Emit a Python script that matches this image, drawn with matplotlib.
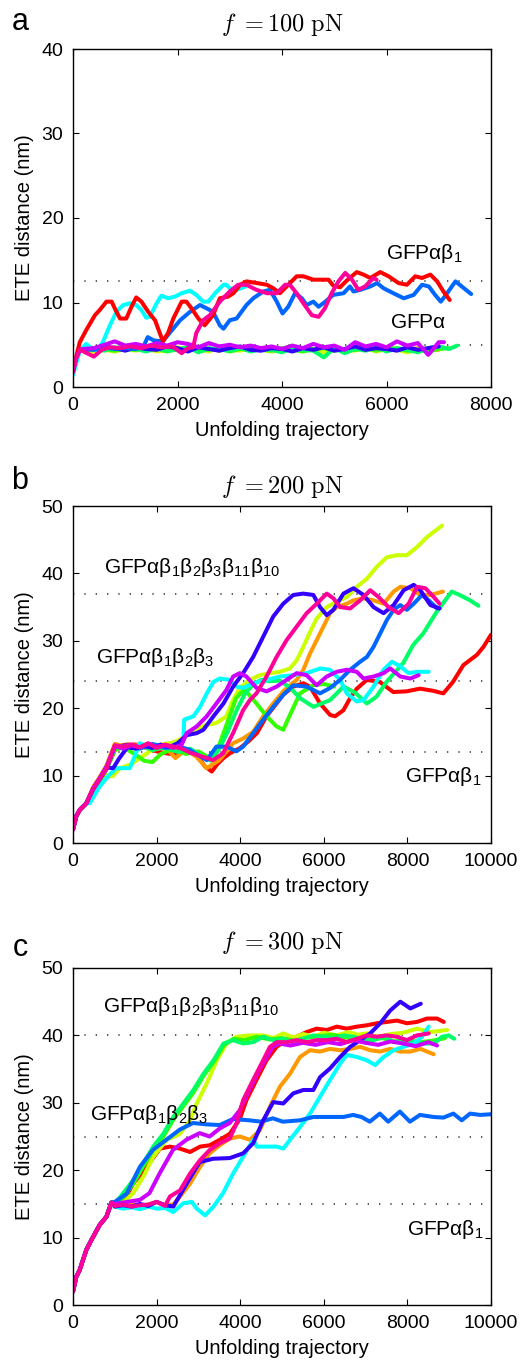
import matplotlib
matplotlib.use('Agg')
import matplotlib.pyplot as plt

plt.rcParams['font.family'] = ['Liberation Sans', 'DejaVu Sans']

W, H = 525, 1363

# colours of the ten runs (hsv(10) order)
red, orange, lime, green1, green2 = '#ff0000', '#ff9900', '#ccff00', '#33ff00', '#00ff66'
cyan, azure, indigo, purple, pink = '#00ffff', '#0066ff', '#3300ff', '#cc00ff', '#ff0099'

# ---------------- panel a : f = 100 pN ----------------
a_start_x = [0, 60, 130]
a_start_y = [1.8, 3.4, 4.4]
a_flat_x = [200, 400, 600, 800, 1000, 1200, 1400, 1600, 1800, 2000, 2200, 2400, 2600, 2800, 3000,
            3200, 3400, 3600, 3800, 4000, 4200, 4400, 4600, 4800, 5000, 5200, 5400, 5600, 5800,
            6000, 6200, 6400, 6600, 6800, 7000]
a_orange_y = [4.5, 4.4, 4.6, 4.5, 4.4, 4.6, 4.5, 4.4, 4.6, 4.5, 4.4, 4.6, 4.5, 4.3, 4.6, 4.5, 4.4,
              4.6, 4.5, 4.4, 4.6, 4.5, 4.4, 4.6, 4.5, 4.3, 4.6, 4.5, 4.4, 4.6, 4.5, 4.4, 4.6, 4.5, 4.4]
a_lime_y = [4.3, 4.1, 4.4, 4.2, 4.5, 4.3, 4.6, 4.2, 4.4, 4.7, 4.3, 4.5, 4.2, 4.8, 4.4, 4.3, 4.6,
            4.4, 4.2, 4.5, 4.9, 4.3, 4.5, 4.1, 4.6, 4.4, 4.3, 4.7, 4.2, 4.5, 4.4, 4.1, 4.5, 4.3, 4.6]
a_green1_y = [4.6, 4.4, 4.5, 4.3, 4.6, 4.4, 4.7, 4.5, 4.2, 4.5, 4.6, 4.3, 4.4, 4.6, 4.2, 4.5, 4.7,
              4.4, 4.3, 4.6, 4.4, 4.2, 4.5, 4.6, 4.3, 4.5, 4.4, 4.6, 4.3, 4.7, 4.5, 4.3, 4.4, 4.2, 4.5]
a_green2_y = [4.5, 4.6, 4.3, 4.7, 4.4, 4.5, 4.2, 4.6, 4.3, 4.4, 4.7, 4.1, 4.6, 4.4, 4.3, 4.6, 4.2,
              4.5, 4.4, 4.1, 4.6, 4.4, 4.3, 3.5, 4.6, 4.0, 4.5, 4.3, 4.7, 4.2, 4.6, 4.4, 4.1, 4.6, 4.8]
a_indigo_y = [4.4, 4.5, 4.8, 4.6, 4.3, 4.7, 4.5, 4.4, 4.8, 4.6, 4.2, 4.7, 4.5, 4.3, 4.6, 4.8, 4.4,
              4.3, 4.6, 4.5, 4.2, 4.6, 4.4, 4.7, 4.3, 4.5, 4.8, 4.4, 4.6, 4.5, 4.3, 4.7, 4.4, 4.6, 4.8]
a_purple_y = [4.5, 4.6, 5.0, 5.4, 4.9, 5.1, 4.8, 5.2, 4.9, 5.3, 5.1, 4.7, 5.2, 4.8, 5.0, 4.7, 4.9,
              4.6, 4.8, 4.5, 4.9, 4.6, 5.1, 4.7, 4.9, 4.4, 5.3, 4.8, 5.1, 4.7, 5.4, 4.9, 5.2, 3.8, 5.3]

a_red_x = [0, 60, 130, 250, 420, 510, 640, 740, 800, 900, 1020, 1120, 1210, 1310, 1440, 1570, 1660,
           1720, 1820, 1920, 2080, 2170, 2270, 2400, 2520, 2680, 2810, 2970, 3070, 3200, 3320, 3520,
           3710, 3830, 3960, 4090, 4280, 4410, 4600, 4760, 4890, 4980, 5110, 5240, 5430, 5560, 5690,
           5880, 6040, 6230, 6390, 6550, 6680, 6840, 6970, 7090, 7210]
a_red_y = [1.8, 3.6, 5.3, 6.7, 8.5, 9.1, 10.1, 10.1, 9.3, 8.1, 8.1, 9.5, 10.6, 10.1, 8.9, 7.9, 6.4,
           5.4, 6.4, 8.1, 10.1, 10.1, 9.3, 8.1, 7.3, 8.5, 10.5, 10.7, 11.1, 12.1, 12.5, 12.3,
           12.1, 11.7, 11.1, 11.9, 13.1, 13.1, 12.7, 12.7, 12.7, 12.0, 11.8, 12.6, 13.6, 13.3, 12.9,
           13.6, 13.1, 12.3, 12.1, 13.1, 12.9, 13.3, 12.5, 11.3, 10.3]
a_cyan_x = [0, 130, 250, 350, 450, 570, 700, 830, 960, 1090, 1210, 1310, 1400, 1470, 1600, 1690,
            1820, 1950, 2080, 2240, 2360, 2490, 2590, 2720, 2880, 2930, 3000, 3130, 3300]
a_cyan_y = [1.4, 4.3, 5.1, 4.6, 4.3, 5.3, 7.2, 8.9, 9.7, 9.9, 9.7, 9.1, 8.2, 8.3, 9.9, 10.8,
            10.5, 10.7, 11.1, 11.4, 10.9, 10.1, 10.1, 11.1, 12.1, 12.1, 11.7, 11.5, 11.9]
a_azure_x = [200, 400, 600, 800, 1000, 1200, 1350, 1430, 1550, 1720, 1850, 2050, 2240, 2430, 2560,
             2680, 2810, 2880, 3000, 3130, 3320, 3450, 3640, 3770, 3900, 4010, 4120, 4250, 4380,
             4470, 4600, 4700, 4830, 4980, 5180, 5300, 5370, 5500, 5690, 5820, 5940, 6130, 6330,
             6520, 6680, 6810, 6930, 7040, 7160, 7320, 7440, 7620]
a_azure_y = [4.5, 4.4, 4.7, 4.5, 4.6, 4.5, 4.8, 5.9, 5.5, 5.4, 6.4, 7.9, 8.9, 9.7, 9.3,
             8.9, 7.3, 6.9, 7.9, 8.1, 9.7, 10.5, 11.3, 11.5, 10.1, 8.7, 9.5, 11.1, 10.5,
             9.7, 10.1, 9.5, 10.1, 10.9, 11.1, 11.9, 11.3, 11.5, 11.9, 12.3, 11.7, 11.1, 10.5,
             10.9, 12.1, 11.9, 10.9, 10.1, 11.1, 12.5, 11.9, 11.0]
a_pink_x = [200, 400, 550, 700, 900, 1100, 1300, 1500, 1700, 1900, 2080, 2200, 2300, 2360, 2490,
            2620, 2810, 3000, 3160, 3320, 3510, 3710, 3900, 4060, 4150, 4280, 4410, 4570, 4700,
            4820, 4950, 5080, 5210, 5340, 5460, 5590, 5750, 5810]
a_pink_y = [4.2, 3.6, 4.4, 4.7, 4.6, 4.8, 4.6, 4.9, 4.7, 4.8, 4.0, 4.6, 4.7, 6.4, 7.9,
            8.5, 10.1, 11.3, 12.1, 12.1, 11.5, 11.1, 11.1, 12.1, 12.1, 11.1, 9.9, 8.5, 8.3,
            9.3, 11.1, 12.5, 13.5, 12.7, 11.5, 11.9, 12.9, 12.7]

# ---------------- panel b : f = 200 pN ----------------
b_start_x = [0, 80, 160, 320]
b_start_y = [2.0, 4.0, 4.9, 5.9]
b_red_x = [480, 640, 800, 1040, 1280, 1520, 1760, 2000, 2240, 2480, 2720, 2960, 3150, 3320, 3440,
           3600, 3750, 4000, 4200, 4400, 4630, 4870, 5030, 5270, 5510, 5670, 5910, 6150, 6270,
           6470, 6630, 6790, 7030, 7340, 7660, 7980, 8300, 8600, 8860, 9090, 9340, 9660, 9820, 10000]
b_red_y = [7.9, 9.2, 11.0, 14.3, 14.6, 14.6, 14.1, 13.6, 13.3, 13.1, 13.6, 13.1, 11.4, 10.6, 11.6,
           12.6, 13.3, 14.1, 15.1, 16.3, 18.8, 20.7, 22.0, 23.2, 23.7, 23.2, 20.7, 19.0, 18.8,
           19.7, 21.5, 22.9, 24.2, 23.9, 22.4, 22.5, 22.9, 22.6, 22.2, 23.9, 26.4, 27.9, 29.1, 30.9]
b_orange_x = [480, 640, 800, 1000, 1300, 1600, 1900, 2200, 2450, 2700, 2950, 3200, 3500, 3830,
              4070, 4310, 4550, 4790, 5030, 5190, 5350, 5510, 5670, 5910, 6150, 6310, 6550, 6710,
              6950, 7190, 7430, 7670, 7830, 8070, 8310, 8550, 8850]
b_orange_y = [8.3, 9.8, 11.5, 14.7, 14.2, 14.6, 13.8, 14.3, 12.6, 13.9, 12.8, 11.1, 12.3, 14.8,
              15.5, 16.5, 18.8, 20.7, 22.5, 23.4, 24.2, 25.7, 28.1, 31.1, 34.1, 35.0, 35.5, 36.0,
              36.3, 36.0, 35.5, 37.3, 38.0, 37.8, 36.8, 36.8, 37.3]
b_lime_x = [480, 640, 800, 950, 1120, 1360, 1600, 1840, 2100, 2400, 2700, 2950, 3200, 3430, 3670,
            3830, 3990, 4230, 4470, 4710, 4950, 5190, 5350, 5510, 5670, 5830, 6070, 6310, 6550,
            6790, 7030, 7270, 7510, 7750, 7990, 8230, 8470, 8830]
b_lime_y = [7.5, 8.8, 10.0, 9.9, 11.1, 11.6, 12.6, 13.6, 14.6, 14.9, 15.8, 17.0, 17.5, 17.8, 18.8,
            21.2, 23.0, 24.2, 24.9, 25.2, 25.4, 25.9, 27.1, 29.1, 31.3, 33.3, 35.0, 35.8, 36.5,
            38.0, 39.2, 41.0, 42.4, 42.7, 42.7, 43.9, 45.4, 47.1]
b_green1_x = [480, 640, 800, 1000, 1200, 1450, 1700, 1900, 2100, 2400, 2700, 3000, 3300, 3500,
              3700, 3900, 4100, 4390, 4630, 4870, 5030, 5190, 5430, 5750, 6000, 6250]
b_green1_y = [7.8, 9.2, 10.9, 13.8, 14.2, 13.3, 12.2, 12.0, 13.2, 14.0, 13.2, 13.6, 12.5, 14.6,
              18.0, 21.5, 22.8, 20.7, 18.8, 17.3, 16.8, 19.0, 22.2, 23.4, 23.6, 23.2]
b_green2_x = [480, 640, 800, 1000, 1300, 1600, 1900, 2200, 2500, 2800, 3100, 3300, 3500, 3700,
              3900, 4100, 4300, 4500, 4700, 4950, 5200, 5430, 5750, 6150, 6470, 6750, 7030, 7260,
              7500, 7900, 8140, 8380, 8700, 9060, 9250, 9500, 9700]
b_green2_y = [8.0, 9.5, 11.2, 14.3, 14.0, 14.5, 13.8, 14.2, 13.5, 14.0, 12.8, 12.2, 14.0, 16.5,
              19.5, 22.0, 23.5, 24.2, 24.0, 24.1, 23.0, 21.5, 20.2, 21.2, 23.2, 22.3, 20.7, 21.7,
              23.9, 26.7, 29.4, 31.1, 34.3, 37.3, 36.8, 36.0, 35.2]
b_cyan_x = [400, 640, 880, 1040, 1360, 1600, 1800, 2000, 2200, 2400, 2640, 2660, 2880, 3040, 3200,
            3360, 3510, 3750, 3910, 4070, 4310, 4630, 4950, 5270, 5590, 5910, 6150, 6390, 6550,
            6790, 6950, 7190, 7430, 7630, 7830, 8030, 8230, 8510]
b_cyan_y = [5.9, 8.4, 10.2, 11.1, 11.1, 14.8, 14.3, 14.6, 14.2, 14.5, 15.1, 18.3, 18.8, 20.2, 22.2,
            23.9, 24.4, 24.2, 23.2, 23.0, 23.7, 24.2, 24.7, 24.9, 25.2, 25.9, 25.7, 24.2, 22.2,
            21.0, 21.2, 23.2, 25.7, 26.9, 26.2, 25.2, 25.4, 25.4]
b_azure_x = [480, 640, 800, 1000, 1300, 1600, 1900, 2200, 2500, 2800, 3000, 3200, 3430, 3670,
             3910, 4070, 4310, 4550, 4790, 5030, 5270, 5590, 5910, 6150, 6390, 6630, 6870, 7030,
             7190, 7350, 7510, 7670, 7830, 7990, 8150, 8350, 8510, 8710]
b_azure_y = [7.9, 9.4, 11.0, 14.2, 14.5, 14.0, 14.7, 14.1, 14.4, 13.8, 13.0, 12.3, 14.3, 14.3,
             13.6, 14.3, 16.3, 18.3, 20.2, 22.0, 23.4, 23.2, 22.2, 23.0, 24.2, 25.7, 26.9, 27.6,
             29.1, 31.1, 33.1, 34.6, 35.3, 34.6, 35.5, 36.8, 36.0, 34.8]
b_indigo_x = [480, 640, 800, 960, 1100, 1300, 1500, 1700, 1900, 2100, 2300, 2500, 2720, 2960, 3120,
              3360, 3600, 3830, 4070, 4310, 4550, 4790, 5030, 5270, 5510, 5750, 5910, 6070, 6230,
              6470, 6710, 6950, 7190, 7430, 7670, 7910, 8150, 8310, 8550, 8770]
b_indigo_y = [8.0, 9.6, 11.2, 11.1, 12.5, 14.2, 14.0, 14.4, 14.1, 14.6, 14.2, 14.8, 16.0, 16.3, 16.8,
              18.8, 20.7, 23.2, 25.2, 27.6, 30.6, 33.6, 35.5, 36.8, 37.0, 36.8, 35.0, 33.8, 34.6,
              37.0, 37.8, 36.8, 35.0, 34.1, 35.3, 37.5, 38.3, 37.5, 35.3, 34.8]
b_purple_x = [480, 640, 800, 1000, 1200, 1400, 1600, 1800, 2000, 2200, 2400, 2600, 2720, 2960,
              3200, 3430, 3670, 3830, 3990, 4150, 4390, 4630, 4870, 5110, 5350, 5590, 5830, 6070,
              6310, 6550, 6790, 6950, 7190, 7430, 7590, 7830, 8070, 8270]
b_purple_y = [8.1, 9.6, 11.3, 14.4, 14.0, 14.5, 14.2, 14.7, 14.3, 14.5, 14.1, 14.6, 16.3, 17.3,
              18.8, 20.7, 22.7, 24.7, 25.2, 24.7, 23.0, 22.5, 23.2, 24.2, 25.2, 24.9, 23.4, 24.7,
              25.4, 25.7, 25.4, 24.4, 24.7, 25.2, 25.9, 24.7, 24.4, 24.9]
b_pink_x = [480, 640, 800, 1000, 1200, 1400, 1600, 1800, 2000, 2200, 2400, 2600, 2800, 3000, 3200,
            3350, 3590, 3830, 4070, 4230, 4390, 4630, 4870, 5110, 5350, 5590, 5830, 6070, 6230,
            6390, 6630, 6870, 7110, 7310, 7550, 7790, 8030, 8230, 8430, 8630, 8770]
b_pink_y = [8.0, 9.5, 11.0, 14.5, 14.3, 14.6, 14.2, 14.8, 14.1, 14.6, 14.3, 14.0, 13.4, 13.0, 12.6,
            12.3, 13.3, 16.3, 19.7, 21.2, 22.2, 24.7, 27.6, 30.1, 32.1, 34.1, 35.5, 37.0, 36.3,
            35.0, 34.8, 36.0, 37.5, 36.5, 35.0, 34.1, 35.5, 38.0, 37.8, 36.5, 35.5]

# ---------------- panel c : f = 300 pN ----------------
c_start_x = [0, 80, 160, 320, 480, 640, 800, 920]
c_start_y = [2.0, 4.2, 5.2, 8.2, 10.1, 11.9, 13.1, 15.2]
c_red_x = [1000, 1200, 1440, 1760, 2080, 2320, 2560, 2800, 3040, 3270, 3510, 3750, 3990, 4150, 4390,
           4630, 4870, 5110, 5350, 5590, 5830, 6070, 6310, 6550, 6790, 7030, 7270, 7510, 7750,
           7990, 8230, 8470, 8710, 8870]
c_red_y = [14.8, 15.3, 18.0, 20.5, 23.2, 23.5, 23.2, 22.7, 23.5, 23.7, 24.5, 25.4, 27.6, 30.4, 33.4,
           36.3, 38.3, 39.3, 39.8, 40.5, 41.0, 40.8, 41.3, 41.0, 41.3, 41.5, 41.8, 42.0, 42.2,
           41.8, 42.0, 42.5, 42.5, 42.0]
c_orange_x = [1000, 1200, 1400, 1600, 1800, 2000, 2200, 2400, 2560, 2800, 3040, 3270, 3510, 3750,
              3990, 4230, 4470, 4710, 4950, 5190, 5430, 5670, 5910, 6150, 6390, 6630, 6870, 7110,
              7350, 7590, 7830, 8070, 8310, 8470, 8630]
c_orange_y = [14.9, 14.6, 15.0, 14.7, 14.9, 15.3, 14.8, 14.9, 16.1, 18.0, 20.5, 22.5, 23.7, 24.7,
              25.0, 24.5, 25.9, 29.4, 32.4, 34.3, 36.8, 37.8, 37.6, 38.0, 37.8, 38.0, 38.3, 37.8,
              37.6, 38.0, 37.6, 37.6, 38.0, 37.6, 37.2]
c_lime_x = [1000, 1200, 1440, 1680, 1920, 2240, 2560, 2800, 2960, 3200, 3440, 3670, 3910, 4230, 4550,
            4800, 5030, 5270, 5510, 5750, 6000, 6300, 6600, 6800, 7030, 7300, 7600, 7900, 8230,
            8550, 8950]
c_lime_y = [15.0, 15.2, 16.6, 19.0, 22.0, 24.5, 25.4, 27.4, 29.9, 32.9, 36.3, 38.8, 39.8, 40.0, 40.0,
            39.6, 40.3, 39.7, 40.2, 39.8, 40.4, 40.0, 40.5, 40.1, 40.3, 39.8, 40.2, 40.4, 41.0,
            40.5, 40.8]
c_green1_x = [1000, 1200, 1440, 1680, 1920, 2160, 2400, 2640, 2880, 3120, 3360, 3600, 3840, 4100,
              4400, 4700, 5000, 5300, 5600, 5900, 6200, 6500, 6800, 7100, 7400, 7700, 8000, 8300,
              8600, 8900]
c_green1_y = [15.0, 16.0, 18.0, 20.6, 23.0, 25.0, 27.5, 29.5, 31.5, 34.0, 36.0, 38.5, 39.5, 39.3,
              39.8, 39.4, 39.6, 39.2, 39.7, 39.9, 40.1, 39.7, 39.5, 39.4, 39.6, 39.1, 39.3, 39.0,
              39.2, 39.6]
c_green2_x = [1000, 1200, 1440, 1680, 1920, 2160, 2400, 2640, 2880, 3120, 3360, 3600, 3830, 4070,
              4310, 4550, 4790, 5030, 5270, 5510, 5750, 5990, 6230, 6470, 6710, 6950, 7190, 7430,
              7670, 7910, 8150, 8390, 8630, 8830, 8990, 9120]
c_green2_y = [15.0, 16.6, 18.5, 21.0, 23.5, 25.4, 27.9, 29.9, 31.9, 34.3, 36.3, 38.8, 39.3, 38.8,
              39.0, 39.8, 39.3, 39.5, 39.0, 39.5, 40.0, 39.8, 39.6, 40.0, 39.8, 39.3, 39.3, 39.8,
              39.0, 39.3, 39.0, 38.8, 38.8, 39.8, 40.0, 39.5]
c_cyan_x = [1000, 1200, 1400, 1600, 1800, 2000, 2200, 2400, 2640, 2840, 2960, 3160, 3360, 3590,
            3830, 4070, 4310, 4400, 4630, 4870, 5030, 5190, 5430, 5670, 5910, 6150, 6390, 6550,
            6790, 7030, 7230, 7430, 7670, 7910, 8150, 8350, 8510]
c_cyan_y = [14.6, 14.3, 14.5, 14.2, 14.6, 14.3, 14.4, 13.8, 15.1, 15.3, 14.3, 13.3, 14.6, 16.6,
            19.5, 22.0, 24.5, 23.5, 23.5, 23.5, 23.2, 24.5, 26.4, 28.4, 30.9, 33.4, 35.8, 37.1,
            36.8, 36.3, 35.6, 36.8, 37.8, 38.3, 38.8, 39.8, 41.3]
c_azure_x = [1000, 1280, 1600, 1910, 2230, 2550, 2870, 3190, 3510, 3830, 4220, 4500, 4780, 5020,
             5430, 5750, 6150, 6470, 6700, 6900, 7100, 7340, 7540, 7820, 8060, 8300, 8620, 8860,
             9100, 9300, 9500, 9740, 10000]
c_azure_y = [15.3, 16.5, 20.5, 23.0, 24.5, 26.0, 27.0, 26.8, 26.7, 27.6, 27.4, 27.2, 27.7, 27.2,
             27.4, 27.9, 27.9, 27.9, 28.2, 27.9, 27.2, 28.4, 27.2, 28.7, 27.2, 28.2, 27.9, 27.8,
             28.4, 27.4, 28.4, 28.2, 28.3]
c_indigo_x = [1000, 1200, 1400, 1600, 1800, 2000, 2200, 2400, 2700, 3030, 3350, 3750, 4070, 4310,
              4550, 4790, 5030, 5270, 5510, 5750, 5910, 6150, 6390, 6630, 6870, 7110, 7350, 7590,
              7830, 8070, 8320]
c_indigo_y = [14.6, 14.8, 14.6, 15.0, 14.7, 15.3, 14.8, 14.6, 17.8, 21.2, 21.7, 21.8, 22.5, 24.0,
              27.4, 30.1, 29.9, 31.4, 31.9, 31.9, 33.8, 35.1, 36.8, 38.3, 39.3, 40.3, 41.8, 43.7,
              45.0, 44.0, 44.7]
c_purple_x = [1000, 1200, 1400, 1600, 1830, 2070, 2390, 2710, 3030, 3270, 3510, 3750, 3990, 4220,
              4460, 4780, 4940, 5200, 5500, 5800, 6100, 6400, 6700, 7000, 7300, 7600, 7900, 8200,
              8500, 8710]
c_purple_y = [15.0, 15.2, 15.4, 15.6, 16.6, 19.5, 23.0, 24.5, 25.5, 25.0, 26.2, 27.0, 28.9, 31.9,
              34.9, 38.3, 38.8, 38.5, 38.9, 38.6, 39.0, 38.7, 39.3, 38.9, 38.6, 39.1, 38.8, 38.4,
              39.0, 38.5]
c_pink_x = [1000, 1200, 1400, 1600, 1800, 2000, 2200, 2320, 2560, 2800, 3040, 3270, 3510, 3750,
            3910, 4070, 4310, 4550, 4710, 4870, 5110, 5350, 5590, 5830, 6070, 6310, 6550, 6790,
            7030, 7270, 7510, 7750, 7990, 8230, 8510]
c_pink_y = [14.7, 14.9, 14.6, 14.8, 14.9, 15.3, 14.7, 16.1, 17.0, 19.5, 21.5, 23.0, 24.0, 24.7,
            26.9, 30.4, 33.4, 36.3, 38.3, 39.0, 39.0, 39.3, 39.0, 39.3, 39.3, 39.5, 39.0, 39.5,
            40.0, 39.8, 40.0, 39.8, 39.3, 40.0, 40.3]

a_levels = [12.5, 5]
b_levels = [37, 24, 13.5]
c_levels = [40, 25, 15]

lab_a1 = r'$\mathregular{GFPαβ_1}$'
lab_alpha = r'$\mathregular{GFPα}$'
lab_b123 = r'$\mathregular{GFPαβ_1β_2β_3}$'
lab_all = r'$\mathregular{GFPαβ_1β_2β_3β_{11}β_{10}}$'


def px_rect(left, top, right, bottom):
    return [left / W, 1 - bottom / H, (right - left) / W, (bottom - top) / H]


def draw_panel(ax, curves, levels, labels, xmax, ymax, xticks, yticks):
    for lv in levels:
        ax.plot([0, xmax], [lv, lv], color='0.25', lw=1.2, ls=(0, (0.8, 6)), zorder=1)
    for x, y, c in curves:
        ax.plot(x, y, color=c, lw=2.9, solid_capstyle='round', solid_joinstyle='round', zorder=2)
    for x, y, s in labels:
        ax.text(x, y, s, fontsize=15, ha='left', va='baseline', zorder=3)
    ax.set_xlim(0, xmax)
    ax.set_ylim(0, ymax)
    ax.set_xticks(xticks)
    ax.set_yticks(yticks)
    ax.tick_params(direction='in', top=True, right=True, length=4, width=0.8,
                   labelsize=14, pad=7)
    for sp in ax.spines.values():
        sp.set_linewidth(1.0)
    ax.set_xlabel('Unfolding trajectory', fontsize=14.5, labelpad=5)
    ax.set_ylabel('ETE distance (nm)', fontsize=14.5, labelpad=5)


fig = plt.figure(figsize=(W / 100, H / 100), dpi=100)

ax_a = fig.add_axes(px_rect(73, 49, 491, 387))
curves_a = [
    (a_start_x + a_flat_x, a_start_y + a_orange_y, orange),
    (a_start_x + a_flat_x, a_start_y + a_lime_y, lime),
    (a_start_x + a_flat_x + [7200], a_start_y + a_green1_y + [4.6], green1),
    (a_start_x + a_flat_x + [7200, 7350], a_start_y + a_green2_y + [4.5, 4.9], green2),
    (a_start_x + a_flat_x, a_start_y + a_indigo_y, indigo),
    (a_cyan_x, a_cyan_y, cyan),
    (a_start_x + a_azure_x, a_start_y + a_azure_y, azure),
    (a_red_x, a_red_y, red),
    (a_start_x + a_flat_x + [7100], a_start_y + a_purple_y + [5.3], purple),
    (a_start_x + a_pink_x, a_start_y + a_pink_y, pink),
]
draw_panel(ax_a, curves_a, a_levels, [(5990, 15.1, lab_a1), (6070, 7.0, lab_alpha)],
           8000, 40, [0, 2000, 4000, 6000, 8000], [0, 10, 20, 30, 40])

ax_b = fig.add_axes(px_rect(73, 506, 491, 843))
curves_b = [
    (b_start_x + b_red_x, b_start_y + b_red_y, red),
    (b_start_x + b_orange_x, b_start_y + b_orange_y, orange),
    (b_start_x + b_lime_x, b_start_y + b_lime_y, lime),
    (b_start_x + b_green1_x, b_start_y + b_green1_y, green1),
    (b_start_x + b_green2_x, b_start_y + b_green2_y, green2),
    (b_start_x + b_cyan_x, b_start_y + b_cyan_y, cyan),
    (b_start_x + b_azure_x, b_start_y + b_azure_y, azure),
    (b_start_x + b_indigo_x, b_start_y + b_indigo_y, indigo),
    (b_start_x + b_purple_x, b_start_y + b_purple_y, purple),
    (b_start_x + b_pink_x, b_start_y + b_pink_y, pink),
]
draw_panel(ax_b, curves_b, b_levels,
           [(742, 40.1, lab_all), (543, 26.7, lab_b123), (7943, 9.1, lab_a1)],
           10000, 50, [0, 2000, 4000, 6000, 8000, 10000], [0, 10, 20, 30, 40, 50])

ax_c = fig.add_axes(px_rect(73, 968, 491, 1305))
curves_c = [
    (c_start_x + c_red_x, c_start_y + c_red_y, red),
    (c_start_x + c_orange_x, c_start_y + c_orange_y, orange),
    (c_start_x + c_lime_x, c_start_y + c_lime_y, lime),
    (c_start_x + c_green1_x, c_start_y + c_green1_y, green1),
    (c_start_x + c_green2_x, c_start_y + c_green2_y, green2),
    (c_start_x + c_cyan_x, c_start_y + c_cyan_y, cyan),
    (c_start_x + c_azure_x, c_start_y + c_azure_y, azure),
    (c_start_x + c_indigo_x, c_start_y + c_indigo_y, indigo),
    (c_start_x + c_purple_x, c_start_y + c_purple_y, purple),
    (c_start_x + c_pink_x, c_start_y + c_pink_y, pink),
]
draw_panel(ax_c, curves_c, c_levels,
           [(725, 43.5, lab_all), (407, 27.4, lab_b123), (7990, 10.4, lab_a1)],
           10000, 50, [0, 2000, 4000, 6000, 8000, 10000], [0, 10, 20, 30, 40, 50])

# titles and panel letters
for txt, ty in [(r'$f\ =100\ \mathrm{pN}$', 25), (r'$f\ =200\ \mathrm{pN}$', 487),
                (r'$f\ =300\ \mathrm{pN}$', 942)]:
    fig.text(282 / W, 1 - ty / H, txt, fontsize=17.5, ha='center', va='center',
             math_fontfamily='cm')
for txt, ty in [('a', 22), ('b', 481), ('c', 948)]:
    fig.text(20 / W, 1 - ty / H, txt, fontsize=22, ha='center', va='center')

fig.savefig('out.png', dpi=100)
